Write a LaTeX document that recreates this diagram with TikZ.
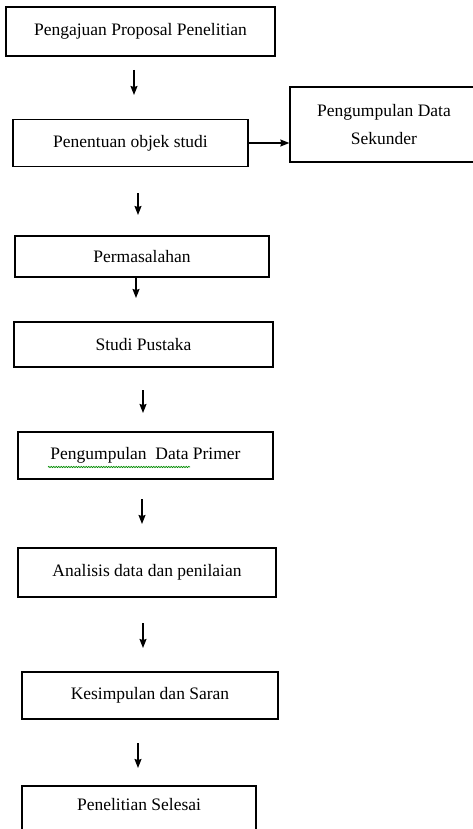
\documentclass[tikz,border=0pt]{standalone}
\usepackage{fontspec}
\setmainfont{Liberation Serif}
\usetikzlibrary{arrows.meta,decorations.pathmorphing}
\begin{document}
\begin{tikzpicture}[x=1pt,y=-1pt,
  lbl/.style={font=\fontsize{17.5}{21}\selectfont},
  box/.style={draw=black,line width=1.3pt,inner sep=0pt,align=center,lbl},
  arr/.style={draw=black,line width=1.3pt,-{Stealth[length=9pt,width=7pt,inset=1pt]}}]
\useasboundingbox (0,0) rectangle (473,829);
\clip (0,0) rectangle (473,829);
\fill[white] (0,0) rectangle (473,829);
\node[box,minimum width=269pt,minimum height=49pt] (b1) at (140.5,31.5) {Pengajuan Proposal Penelitian};
\node[box,minimum width=235pt,minimum height=47pt] (b2) at (130.5,143) {Penentuan objek studi};
\node[box,minimum width=188pt,minimum height=75pt,font=\fontsize{17.5}{28}\selectfont] (side) at (384,124.5) {Pengumpulan Data\\Sekunder};
\node[box,minimum width=254pt,minimum height=41pt] (b3) at (142,256.5) {Permasalahan};
\node[box,minimum width=259pt,minimum height=45pt] (b4) at (143.5,344.5) {Studi Pustaka};
\node[box,minimum width=255pt,minimum height=47pt] (b5) at (145.5,455.5) {Pengumpulan\ \ Data Primer};
\node[box,minimum width=258pt,minimum height=49pt] (b6) at (147,572.5) {Analisis data dan penilaian};
\node[box,minimum width=256pt,minimum height=47pt] (b7) at (150,695.5) {Kesimpulan dan Saran};
\node[box,minimum width=234pt,minimum height=50pt] (b8) at (139,811) {};
\node[lbl] (t8) at (139,805) {Penelitian Selesai};
% spelling squiggle
\coordinate (sq1) at (48,467);
\coordinate (sq2) at (190,467);
\draw[green!55!black,line width=0.7pt,decorate,decoration={snake,amplitude=0.7pt,segment length=2.5pt}] (sq1) -- (sq2);
% arrows
\coordinate (a1s) at (134,70); \coordinate (a1e) at (134,95);
\coordinate (a2s) at (138,193); \coordinate (a2e) at (138,215);
\coordinate (a3e) at (136,298);
\coordinate (a4s) at (143,390); \coordinate (a4e) at (143,413);
\coordinate (a5s) at (142,499); \coordinate (a5e) at (142,524);
\coordinate (a6s) at (143,623); \coordinate (a6e) at (143,648);
\coordinate (a7s) at (138,743); \coordinate (a7e) at (138,768);
\draw[arr] (a1s) -- (a1e);
\draw[arr] (b2.east) -- (b2.east -| side.west);
\draw[arr] (a2s) -- (a2e);
\draw[arr] (b3.south -| a3e) -- (a3e);
\draw[arr] (a4s) -- (a4e);
\draw[arr] (a5s) -- (a5e);
\draw[arr] (a6s) -- (a6e);
\draw[arr] (a7s) -- (a7e);
\end{tikzpicture}
\end{document}
